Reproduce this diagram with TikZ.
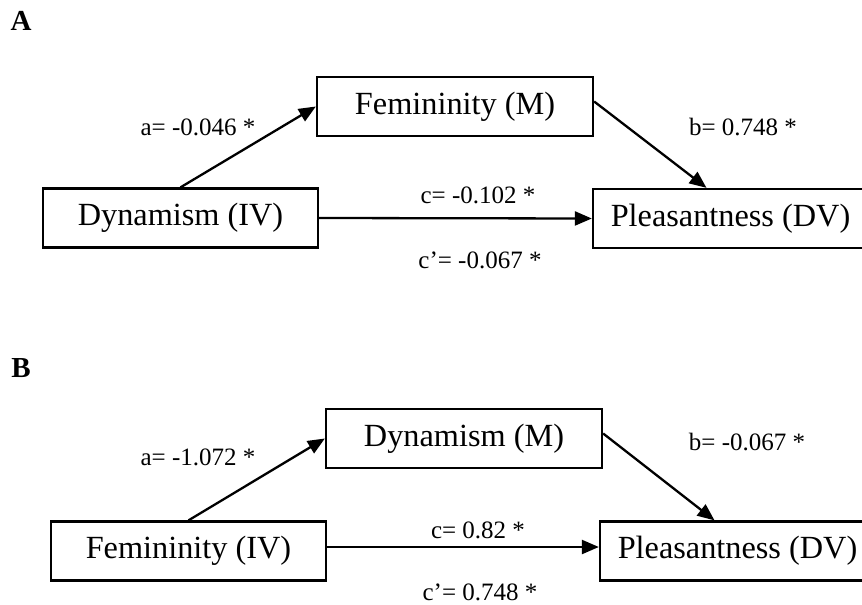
\documentclass[tikz,border=0pt]{standalone}
\usepackage{fontspec}
\setmainfont{Liberation Serif}
\usetikzlibrary{arrows.meta,calc}
\tikzset{
  varbox/.style={draw, line width=2.3pt, minimum height=59pt, inner sep=0pt, font=\fontsize{32.3}{38}\selectfont},
  coef/.style={inner sep=0pt, font=\fontsize{25}{30}\selectfont},
  panel/.style={inner sep=0pt, font=\fontsize{29}{34}\selectfont\bfseries},
  path/.style={line width=2.3pt, -{Triangle[length=17pt,width=14pt]}}
}
\begin{document}
\begin{tikzpicture}[x=1pt,y=-1pt]
\useasboundingbox (0,0) rectangle (862,605);
% Panel A
\node[panel] (labA) at (21,21) {A};
\node[varbox, minimum width=275pt] (ivA) at (180.5,218) {Dynamism (IV)};
\node[varbox, minimum width=276pt] (mA) at (455,106.5) {Femininity (M)};
\node[varbox, minimum width=275pt] (dvA) at (730.5,218.5) {Pleasantness (DV)};
\draw[path] (ivA.north) -- (mA.west);
\draw[path] ([yshift=5pt]mA.east) -- ([xshift=-24pt]dvA.north);
\draw[path] (ivA.east) -- (dvA.west);
\node[coef] (aA) at (198,127) {a= -0.046 *};
\node[coef] (bA) at (743,127) {b= 0.748 *};
\node[coef] (cA) at (478,195) {c= -0.102 *};
\node[coef] (cpA) at (480,260) {c’= -0.067 *};
% Panel B
\node[panel] (labB) at (21,368) {B};
\node[varbox, minimum width=275pt] (ivB) at (188.5,551) {Femininity (IV)};
\node[varbox, minimum width=276pt] (mB) at (464,438.5) {Dynamism (M)};
\node[varbox, minimum width=275pt] (dvB) at (737.5,551) {Pleasantness (DV)};
\draw[path] (ivB.north) -- (mB.west);
\draw[path] ([yshift=5pt]mB.east) -- ([xshift=-23pt]dvB.north);
\draw[path] ([yshift=4pt]ivB.east) -- ([yshift=4pt]dvB.west);
\node[coef] (aB) at (198,457) {a= -1.072 *};
\node[coef] (bB) at (747,442) {b= -0.067 *};
\node[coef] (cB) at (478,530) {c= 0.82 *};
\node[coef] (cpB) at (480,592) {c’= 0.748 *};
\end{tikzpicture}
\end{document}
